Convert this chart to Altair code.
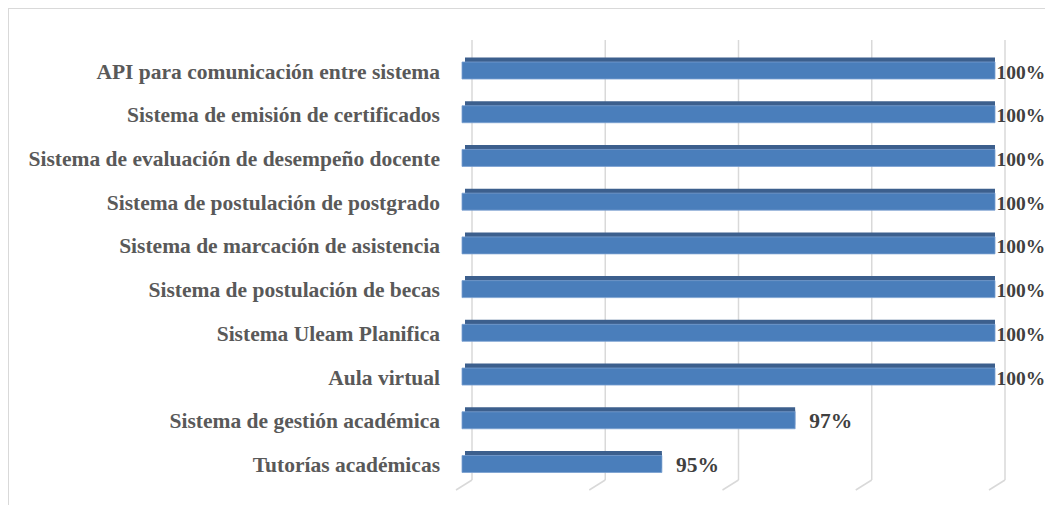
import altair as alt
import pandas as pd

sistemas = [
    "API para comunicación entre sistema",
    "Sistema de emisión de certificados",
    "Sistema de evaluación de desempeño docente",
    "Sistema de postulación de postgrado",
    "Sistema de marcación de asistencia",
    "Sistema de postulación de becas",
    "Sistema Uleam Planifica",
    "Aula virtual",
    "Sistema de gestión académica",
    "Tutorías académicas\u00a0",
]
valores = [100, 100, 100, 100, 100, 100, 100, 100, 97, 95]
grid_ticks = [92, 94, 96, 98, 100]
x_min = 92

df = pd.DataFrame({"sistema": sistemas, "valor": valores})
df["etiqueta"] = df["valor"].astype(str) + "%"
df["base"] = x_min
grid_df = pd.DataFrame({"g": grid_ticks})
one = pd.DataFrame({"a": [0]})

W, H = 1037, 497
xs = alt.Scale(domain=[92, 100], range=[454, 987], zero=False, nice=False)
ys = alt.Scale(type="point", range=[62.5, 456], padding=0, domain=sistemas)

FONT = "Liberation Serif"
GRID = "#d9d9d9"

border_left = alt.Chart(one).mark_rule(color=GRID, strokeWidth=1).encode(
    x=alt.value(0.5), y=alt.value(0), y2=alt.value(H)
)
border_top = alt.Chart(one).mark_rule(color=GRID, strokeWidth=1).encode(
    x=alt.value(0), x2=alt.value(W), y=alt.value(0.5)
)

grid_v = alt.Chart(grid_df).mark_rule(color=GRID, strokeWidth=1.5, xOffset=10, x2Offset=10).encode(
    x=alt.X("g:Q", scale=xs, axis=None),
    y=alt.value(32), y2=alt.value(472),
)
grid_d = alt.Chart(grid_df).mark_rule(color=GRID, strokeWidth=1.5, xOffset=10, x2Offset=-6).encode(
    x=alt.X("g:Q", scale=xs, axis=None),
    x2="g:Q",
    y=alt.value(472), y2=alt.value(482),
)

y_enc = alt.Y("sistema:N", scale=ys, axis=None, sort=sistemas)

bar_side = alt.Chart(df).mark_bar(color="#2e4f7a", size=15, xOffset=5, yOffset=-3).encode(
    x=alt.X("base:Q", scale=xs, axis=None), x2="valor:Q", y=y_enc
)
bar_top = alt.Chart(df).mark_bar(color="#3c5f8d", size=5, xOffset=3, yOffset=-10.5).encode(
    x=alt.X("base:Q", scale=xs, axis=None), x2="valor:Q", y=y_enc
)
bar_front = alt.Chart(df).mark_bar(color="#4a7ebb", size=17, stroke="#7a9fd0", strokeWidth=0.8).encode(
    x=alt.X("base:Q", scale=xs, axis=None), x2="valor:Q", y=y_enc
)

labels = alt.Chart(df).mark_text(
    align="right", baseline="middle", font=FONT, fontWeight="bold", fontSize=21.5,
    color="#595959", dy=2
).encode(
    x=alt.value(432), y=y_enc, text="sistema:N"
)

val_full = alt.Chart(df).transform_filter("datum.valor >= 100").mark_text(
    align="left", baseline="middle", font=FONT, fontWeight="bold", fontSize=19.5,
    color="#404040", dx=1.5, dy=2
).encode(x=alt.X("valor:Q", scale=xs, axis=None), y=y_enc, text="etiqueta:N")

val_part = alt.Chart(df).transform_filter("datum.valor < 100").mark_text(
    align="left", baseline="middle", font=FONT, fontWeight="bold", fontSize=21.5,
    color="#404040", dx=14, dy=2
).encode(x=alt.X("valor:Q", scale=xs, axis=None), y=y_enc, text="etiqueta:N")

chart = alt.layer(
    border_left, border_top, grid_v, grid_d, bar_side, bar_top, bar_front,
    labels, val_full, val_part
).properties(
    width=W, height=H, padding=0, autosize=alt.AutoSizeParams(type="none")
).configure_view(stroke=None)

chart.save("out.html", embed_options={"renderer": "svg", "actions": False})
